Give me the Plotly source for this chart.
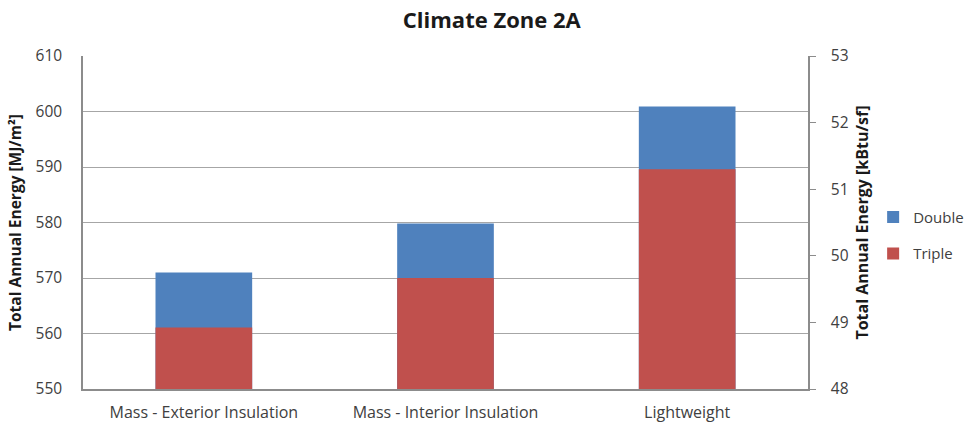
import plotly.graph_objects as go

categories = ["Mass - Exterior Insulation", "Mass - Interior Insulation", "Lightweight"]
double_mj = [571.0, 579.8, 600.9]
triple_mj = [561.1, 570.0, 589.6]

left_range = [550, 610]
right_range = [48, 53]
font_family = "'Open Sans', Lato, sans-serif"
grid_color = "#a6a6a6"
line_color = "#8c8c8c"
text_color = "#404040"
title_color = "#1a1a1a"

fig = go.Figure()
fig.add_trace(go.Bar(x=categories, y=[v - left_range[0] for v in double_mj],
                     base=left_range[0], name="Double", legendgroup="double",
                     marker=dict(color="#4F81BD", line=dict(width=0)), width=0.4))
fig.add_trace(go.Bar(x=categories, y=[v - left_range[0] for v in triple_mj],
                     base=left_range[0], name="Triple", legendgroup="triple",
                     marker=dict(color="#C0504D", line=dict(width=0)), width=0.4))

# secondary axis carrier
fig.add_trace(go.Scatter(x=[categories[0]], y=[None], yaxis="y2",
                         showlegend=False, hoverinfo="skip"))

fig.update_layout(
    width=968, height=426,
    margin=dict(l=83, r=160, t=56, b=37, autoexpand=False),
    paper_bgcolor="white", plot_bgcolor="white",
    barmode="overlay",
    font=dict(family=font_family, color=text_color, size=15.5),
    title=dict(text="<b>Climate Zone 2A</b>", x=0.508, xanchor="center",
               y=0.953, yanchor="middle",
               font=dict(size=22, color=title_color, family=font_family)),
    xaxis=dict(showline=True, linecolor=line_color, linewidth=1.5,
               ticks="", ticklabelstandoff=8, tickfont=dict(size=16, color=text_color),
               showgrid=False),
    yaxis=dict(range=left_range, dtick=10, showgrid=True, gridcolor=grid_color,
               gridwidth=1.2, showline=True, linecolor=line_color, linewidth=1.5,
               ticks="", ticklabelstandoff=16, zeroline=False,
               tickfont=dict(size=15.5, color=text_color),
               title=dict(text="<b>Total Annual Energy [MJ/m²]</b>", standoff=10,
                          font=dict(size=15.5, color=title_color))),
    yaxis2=dict(range=right_range, dtick=1, overlaying="y", side="right",
                showgrid=False, showline=True, linecolor=line_color, linewidth=1.5,
                ticks="outside", ticklen=6, tickcolor=line_color, zeroline=False,
                ticklabelstandoff=12,
                tickfont=dict(size=15.5, color=text_color),
                title=dict(text="<b>Total Annual Energy [kBtu/sf]</b>", standoff=12,
                           font=dict(size=16, color=title_color))),
    legend=dict(xref="container", yref="container", x=0.902, y=0.448,
                xanchor="left", yanchor="middle",
                font=dict(size=15, color=text_color), traceorder="grouped",
                itemwidth=30, tracegroupgap=14),
    showlegend=True,
)

fig.write_html("out.html")
